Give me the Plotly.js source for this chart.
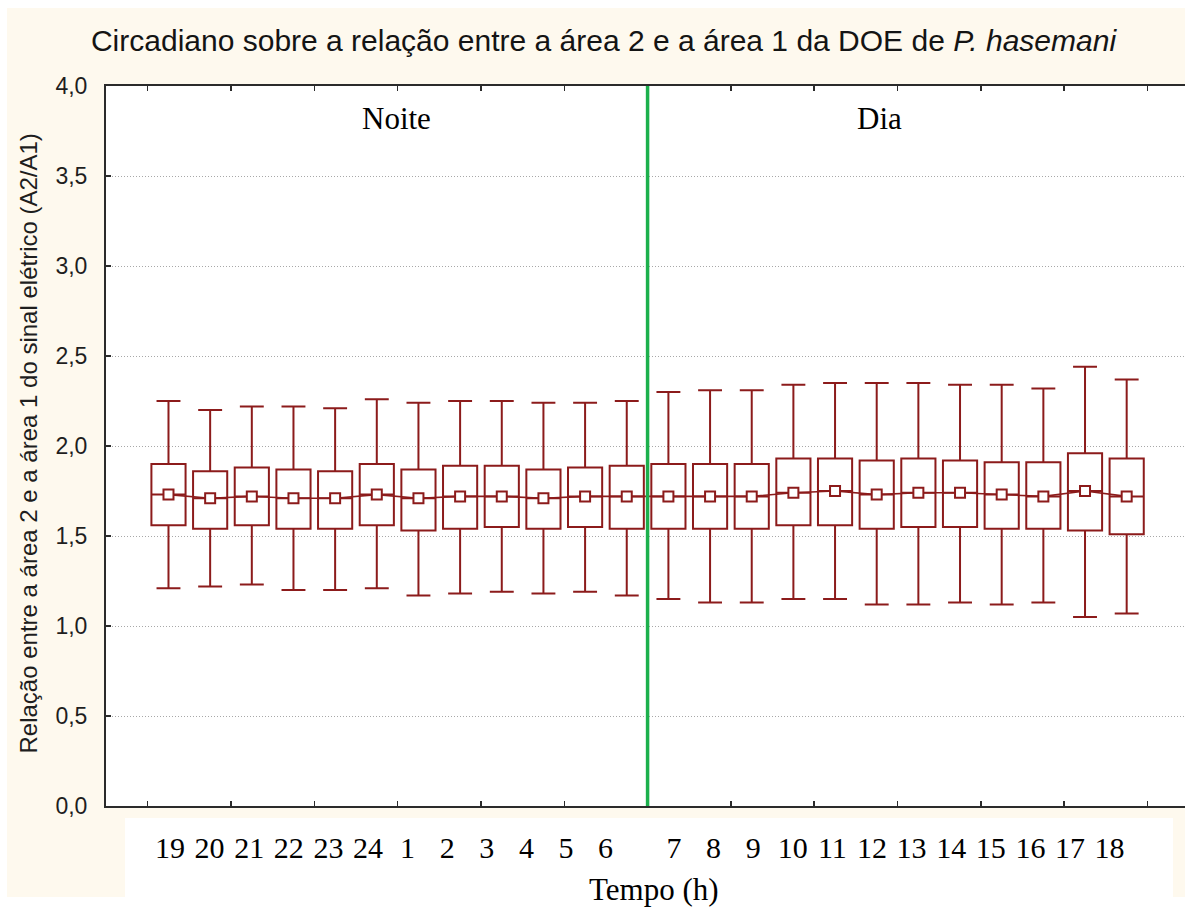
<!DOCTYPE html>
<html>
<head>
<meta charset="utf-8">
<script src="https://cdn.plot.ly/plotly-3.0.1.min.js"></script>
<style>
  html, body { margin: 0; padding: 0; background: #ffffff; }
  #chart { width: 1185px; height: 908px; }
</style>
</head>
<body>
<div id="chart"></div>
<script>
// ---- data ----
const hours      = ['19','20','21','22','23','24','1','2','3','4','5','6',
                    '7','8','9','10','11','12','13','14','15','16','17','18'];
const nightCount = 12;   // first 12 hours are "Noite", the rest "Dia"
const means      = [1.73,1.71,1.72,1.71,1.71,1.73,1.71,1.72,1.72,1.71,1.72,1.72,
                    1.72,1.72,1.72,1.74,1.75,1.73,1.74,1.74,1.73,1.72,1.75,1.72];
const boxHigh    = [1.90,1.86,1.88,1.87,1.86,1.90,1.87,1.89,1.89,1.87,1.88,1.89,
                    1.90,1.90,1.90,1.93,1.93,1.92,1.93,1.92,1.91,1.91,1.96,1.93];
const boxLow     = [1.56,1.54,1.56,1.54,1.54,1.56,1.53,1.54,1.55,1.54,1.55,1.54,
                    1.54,1.54,1.54,1.56,1.56,1.54,1.55,1.55,1.54,1.54,1.53,1.51];
const whiskHigh  = [2.25,2.20,2.22,2.22,2.21,2.26,2.24,2.25,2.25,2.24,2.24,2.25,
                    2.30,2.31,2.31,2.34,2.35,2.35,2.35,2.34,2.34,2.32,2.44,2.37];
const whiskLow   = [1.21,1.22,1.23,1.20,1.20,1.21,1.17,1.18,1.19,1.18,1.19,1.17,
                    1.15,1.13,1.13,1.15,1.15,1.12,1.12,1.13,1.12,1.13,1.05,1.07];

const titleText  = 'Circadiano sobre a relação entre a área 2 e a área 1 da DOE de <i>P. hasemani</i>';
const yTitleText = 'Relação entre a área 2 e a área 1 do sinal elétrico (A2/A1)';
const xTitleText = 'Tempo (h)';
const nightText  = 'Noite';
const dayText    = 'Dia';

// ---- styling ----
const RED    = '#8c1b1b';
const GREEN  = '#1cb04c';
const FRAME  = '#2b2b2b';
const CREAM  = '#fef9ee';
const SANS   = 'Liberation Sans, Arial, sans-serif';
const SERIF  = 'Liberation Serif, Times New Roman, serif';

const idx = hours.map((h, i) => i);
// label axis positions: index, with a small extra gap after the night block
const labelPos = hours.map((h, i) => i < nightCount ? i : i + 0.727);

const traces = [
  {
    type: 'box',
    x: idx,
    q1: boxLow,
    median: means,
    q3: boxHigh,
    lowerfence: whiskLow,
    upperfence: whiskHigh,
    width: 0.82,
    whiskerwidth: 0.7,
    fillcolor: 'rgba(255,255,255,0)',
    line: { color: RED, width: 2 },
    boxpoints: false,
    hoverinfo: 'skip',
    showlegend: false
  },
  {
    type: 'scatter',
    mode: 'lines+markers',
    x: idx,
    y: means,
    line: { color: RED, width: 1.6 },
    marker: { symbol: 'square', size: 10, color: '#ffffff', line: { color: RED, width: 2 } },
    hoverinfo: 'skip',
    showlegend: false
  },
  {
    // carrier for the hour-label axis (draws nothing)
    type: 'scatter',
    mode: 'none',
    x: labelPos,
    y: means,
    xaxis: 'x3',
    yaxis: 'y',
    hoverinfo: 'skip',
    showlegend: false
  }
];

const layout = {
  width: 1185,
  height: 908,
  margin: { l: 106, r: 0, t: 86, b: 102, pad: 0 },
  paper_bgcolor: CREAM,
  plot_bgcolor: '#ffffff',
  separators: ',.',
  showlegend: false,
  title: {
    text: titleText,
    font: { family: SANS, size: 30, color: '#141414' },
    x: 603.5 / 1185, xanchor: 'center', xref: 'container',
    y: 1 - 40 / 908, yanchor: 'middle', yref: 'container'
  },
  xaxis: {
    type: 'linear',
    range: [-1.5, 24.4],
    tickmode: 'linear', tick0: -0.5, dtick: 2,
    ticks: 'inside', ticklen: 5, tickwidth: 1.5, tickcolor: FRAME,
    showticklabels: false,
    showline: true, linewidth: 2, linecolor: FRAME, mirror: 'ticks',
    showgrid: false, zeroline: false, fixedrange: true
  },
  xaxis3: {
    type: 'linear',
    overlaying: 'x', anchor: 'y', side: 'bottom',
    range: [-1.616, 25.631],
    tickmode: 'array', tickvals: labelPos, ticktext: hours,
    ticks: 'outside', ticklen: 15, tickcolor: 'rgba(0,0,0,0)',
    tickfont: { family: SERIF, size: 30, color: '#000000' },
    showline: false, showgrid: false, zeroline: false, fixedrange: true
  },
  yaxis: {
    range: [0, 4],
    tickmode: 'linear', tick0: 0, dtick: 0.5, tickformat: '.1f',
    ticks: 'inside', ticklen: 5, tickwidth: 1.5, tickcolor: FRAME,
    tickfont: { family: SANS, size: 23, color: '#1e1e1e' },
    ticklabelstandoff: 12,
    showline: true, linewidth: 2, linecolor: FRAME, mirror: false,
    showgrid: true, gridcolor: '#a8a8a8', griddash: '1px,2px', gridwidth: 1,
    zeroline: false, fixedrange: true
  },
  shapes: [
    // white page margins around the cream panel
    { type: 'rect', xref: 'paper', yref: 'paper', x0: -0.2, x1: 1.1, y0: (806 - 8) / 720, y1: 1.3,
      fillcolor: '#ffffff', line: { width: 0 }, layer: 'below' },
    { type: 'rect', xref: 'paper', yref: 'paper', x0: -0.2, x1: (7 - 106) / 1079, y0: -0.3, y1: 1.3,
      fillcolor: '#ffffff', line: { width: 0 }, layer: 'below' },
    { type: 'rect', xref: 'paper', yref: 'paper', x0: -0.2, x1: 1.1, y0: -0.3, y1: (806 - 897) / 720,
      fillcolor: '#ffffff', line: { width: 0 }, layer: 'below' },
    // white box behind the hour labels
    { type: 'rect', xref: 'paper', yref: 'paper', x0: (125 - 106) / 1079, x1: (1173 - 106) / 1079,
      y0: -0.3, y1: (806 - 818) / 720,
      fillcolor: '#ffffff', line: { width: 0 }, layer: 'below' },
    // night / day divider
    { type: 'line', xref: 'x', yref: 'paper', x0: nightCount - 0.5, x1: nightCount - 0.5, y0: 0, y1: 1,
      line: { color: GREEN, width: 3.5 }, layer: 'above' }
  ],
  annotations: [
    { text: nightText, xref: 'paper', yref: 'paper', x: (396.5 - 106) / 1079, y: (806 - 119) / 720,
      xanchor: 'center', yanchor: 'middle', showarrow: false,
      font: { family: SERIF, size: 31, color: '#000000' } },
    { text: dayText, xref: 'paper', yref: 'paper', x: (879.6 - 106) / 1079, y: (806 - 119) / 720,
      xanchor: 'center', yanchor: 'middle', showarrow: false,
      font: { family: SERIF, size: 31, color: '#000000' } },
    { text: xTitleText, xref: 'paper', yref: 'paper', x: (654 - 106) / 1079, y: (806 - 889) / 720,
      xanchor: 'center', yanchor: 'middle', showarrow: false,
      font: { family: SERIF, size: 31, color: '#000000' } },
    { text: yTitleText, xref: 'paper', yref: 'paper', x: (28 - 106) / 1079, y: (806 - 443.5) / 720,
      xanchor: 'center', yanchor: 'middle', textangle: -90, showarrow: false,
      font: { family: SANS, size: 24, color: '#1e1e1e' } }
  ]
};

Plotly.newPlot('chart', traces, layout, { displayModeBar: false, staticPlot: true });
</script>
</body>
</html>
